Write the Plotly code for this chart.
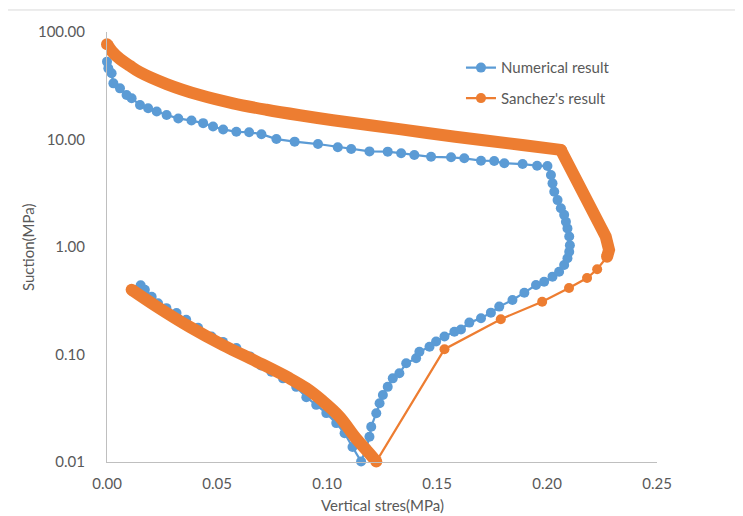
import plotly.graph_objects as go

# ---------------- Data ----------------
# Numerical result: vertical stress (MPa) and suction (MPa), path order
num_stress = [
    0.0153, 0.0172, 0.0203, 0.0232, 0.0270, 0.0316, 0.0360, 0.0414, 0.0475, 0.0527,
    0.0588, 0.0650, 0.0700, 0.0747, 0.0800, 0.0860, 0.0906, 0.0951, 0.0997, 0.1042,
    0.1080, 0.1116, 0.1155,
    0.1178, 0.1193, 0.1201, 0.1224, 0.1239, 0.1254, 0.1276, 0.1299, 0.1329, 0.1360,
    0.1405, 0.1420, 0.1466, 0.1496, 0.1534, 0.1579, 0.1609, 0.1647, 0.1700, 0.1745,
    0.1783, 0.1843, 0.1897, 0.1950, 0.1987, 0.2025, 0.2055, 0.2078, 0.2093, 0.2101,
    0.2104, 0.2101, 0.2093, 0.2086, 0.2078, 0.2063, 0.2048, 0.2033, 0.2025, 0.2018,
    0.2002,
    0.1955, 0.1889, 0.1806, 0.1760, 0.1700, 0.1624, 0.1564, 0.1473, 0.1397, 0.1337,
    0.1276, 0.1193, 0.1110, 0.1049, 0.0959, 0.0853, 0.0770, 0.0702, 0.0646, 0.0588,
    0.0528, 0.0482, 0.0437, 0.0384, 0.0324, 0.0271, 0.0226, 0.0187, 0.0150, 0.0112,
    0.0089, 0.0059, 0.0029, 0.0021, 0.0006, 0.0000,
]
num_suction = [
    0.44, 0.40, 0.345, 0.30, 0.27, 0.243, 0.21, 0.177, 0.147, 0.131,
    0.115, 0.096, 0.079, 0.069, 0.060, 0.050, 0.040, 0.034, 0.0285, 0.023,
    0.0185, 0.0138, 0.0101,
    0.0134, 0.0172, 0.0213, 0.0284, 0.0352, 0.042, 0.050, 0.060, 0.0669, 0.0828,
    0.0922, 0.106, 0.118, 0.132, 0.147, 0.163, 0.171, 0.198, 0.217, 0.245,
    0.279, 0.321, 0.376, 0.443, 0.475, 0.53, 0.589, 0.68, 0.785, 0.904,
    1.04, 1.25, 1.49, 1.72, 1.99, 2.29, 2.73, 3.27, 3.91, 4.68,
    5.66,
    5.70, 5.91, 6.01, 6.31, 6.35, 6.69, 6.83, 6.90, 7.18, 7.45,
    7.71, 7.75, 8.17, 8.46, 9.08, 9.55, 10.1, 11.2, 11.7, 11.8,
    12.4, 13.2, 14.2, 15.0, 15.7, 16.9, 18.2, 19.5, 20.9, 24.2,
    25.9, 29.9, 33.3, 41.3, 45.9, 53.0,
]

# Sanchez's result: densely sampled lower branch (loading)
san_low_stress = [0.0112, 0.0225, 0.0377, 0.0528, 0.0680, 0.0830, 0.0906, 0.0980,
                  0.1057, 0.1132, 0.1193, 0.1224]
san_low_suction = [0.40, 0.28, 0.18, 0.122, 0.086, 0.060, 0.0485, 0.037,
                   0.0264, 0.0166, 0.012, 0.0101]
# Sanchez's result: sparsely sampled wetting segment
san_mid_stress = [0.1224, 0.1534, 0.1790, 0.1978, 0.2100, 0.2182, 0.2228, 0.2273]
san_mid_suction = [0.0101, 0.112, 0.213, 0.31, 0.416, 0.515, 0.62, 0.81]
# Sanchez's result: dense rise to the corner
san_rise_stress = [0.2273, 0.2282, 0.2267, 0.2160, 0.2063]
san_rise_suction = [0.81, 0.94, 1.25, 3.16, 8.0]
# Sanchez's result: densely sampled upper branch
san_up_stress = [0.2063, 0.1887, 0.1583, 0.1329, 0.1027, 0.0876, 0.0725, 0.0573,
                 0.0422, 0.0271, 0.0150, 0.0104, 0.0059, 0.0023, 0.0000]
san_up_suction = [8.0, 8.9, 10.6, 12.5, 15.1, 16.8, 18.9, 21.7,
                  25.9, 32.8, 42.2, 48.5, 56.1, 65.9, 77.0]

y_tickvals = [0.01, 0.1, 1, 10, 100]
y_ticktext = ["0.01", "0.10", "1.00", "10.00", "100.00"]
x_tickvals = [0.00, 0.05, 0.10, 0.15, 0.20, 0.25]
x_ticktext = ["0.00", "0.05", "0.10", "0.15", "0.20", "0.25"]

BLUE = "#5B9BD5"
ORANGE = "#ED7D31"
TXT = "#595959"
FONT = "Lato"

fig = go.Figure()

fig.add_trace(go.Scatter(
    x=num_stress, y=num_suction, mode="lines+markers", name="Numerical result",
    line=dict(color=BLUE, width=2.25), marker=dict(color=BLUE, size=10),
    legendgroup="n", cliponaxis=False,
))

for xs, ys, shp in [(san_low_stress, san_low_suction, "spline"),
                    (san_rise_stress, san_rise_suction, "linear"),
                    (san_up_stress, san_up_suction, "spline")]:
    fig.add_trace(go.Scatter(
        x=xs, y=ys, mode="lines", showlegend=False, legendgroup="s",
        line=dict(color=ORANGE, width=12, shape=shp, smoothing=1.0),
        hoverinfo="skip",
    ))
    fig.add_trace(go.Scatter(
        x=[xs[0], xs[-1]], y=[ys[0], ys[-1]], mode="markers", showlegend=False,
        legendgroup="s", marker=dict(color=ORANGE, size=12), hoverinfo="skip",
        cliponaxis=False,
    ))

fig.add_trace(go.Scatter(
    x=san_mid_stress, y=san_mid_suction, mode="lines+markers", name="Sanchez's result",
    line=dict(color=ORANGE, width=2.25), marker=dict(color=ORANGE, size=10),
    legendgroup="s", cliponaxis=False,
))

# the page body adds an 8px offset, so margins are shifted up/left by 8px
fig.update_layout(
    width=743, height=516,
    margin=dict(l=99, r=94, t=24, b=62),
    paper_bgcolor="white", plot_bgcolor="white",
    font=dict(family=FONT, size=15, color=TXT),
    showlegend=True,
    legend=dict(x=0.6436, y=0.955, xanchor="left", yanchor="top",
                bgcolor="rgba(0,0,0,0)", font=dict(family=FONT, size=15, color=TXT),
                traceorder="grouped", tracegroupgap=8),
    xaxis=dict(range=[0, 0.25], tickvals=x_tickvals, ticktext=x_ticktext,
               showgrid=False, zeroline=False, showline=True, linecolor="#bfbfbf",
               linewidth=1, ticks="", ticklabelstandoff=8,
               tickfont=dict(family=FONT, size=15, color=TXT)),
    yaxis=dict(type="log", range=[-2, 2], tickvals=y_tickvals, ticktext=y_ticktext,
               showgrid=False, zeroline=False, showline=True, linecolor="#bfbfbf",
               linewidth=1, ticks="", ticklabelstandoff=18,
               tickfont=dict(family=FONT, size=15, color=TXT)),
    annotations=[
        dict(text="Suction(MPa)", xref="paper", yref="paper", x=-0.1436, y=0.5,
             textangle=-90, showarrow=False, xanchor="center", yanchor="middle",
             font=dict(family=FONT, size=15, color=TXT)),
        dict(text="Vertical stres(MPa)", xref="paper", yref="paper", x=0.5, y=-0.1,
             showarrow=False, xanchor="center", yanchor="middle",
             font=dict(family=FONT, size=15, color=TXT)),
    ],
    shapes=[
        dict(type="rect", xref="paper", yref="paper", x0=-0.1818, x1=1.147,
             y0=-0.16, y1=1.0512, line=dict(color="#d9d9d9", width=1),
             fillcolor="rgba(0,0,0,0)", layer="below"),
    ],
)

fig.write_html("out.html")
